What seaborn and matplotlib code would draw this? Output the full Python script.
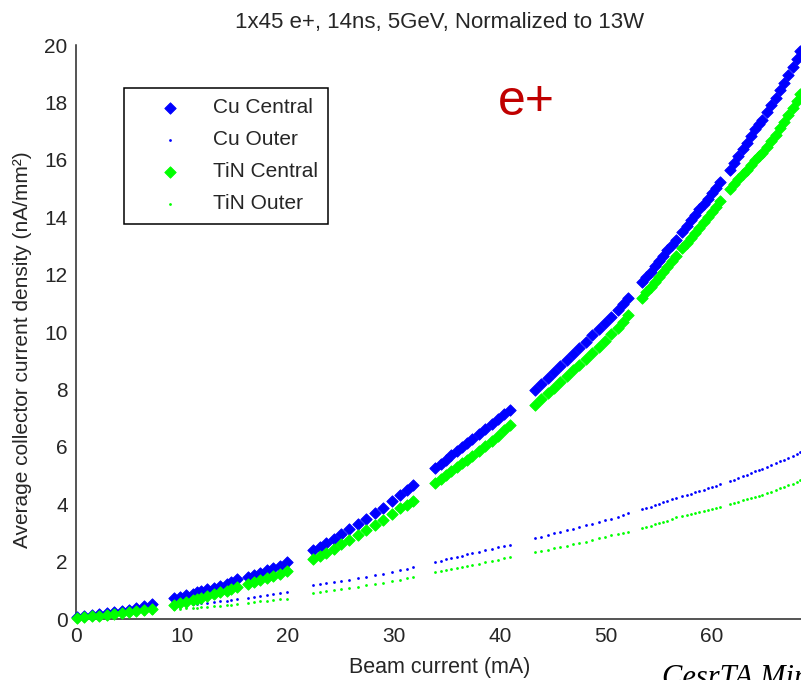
import matplotlib
matplotlib.use("Agg")
import matplotlib.pyplot as plt
import seaborn as sns
import pandas as pd

# Beam current scan (mA), one line per run segment
beam_current = [
    0.1, 0.8, 1.5, 2.2, 2.9, 3.6, 4.3, 5.0, 5.7, 6.4, 7.2,
    9.2, 9.8, 10.4, 11.0, 11.4, 11.8, 12.4, 13.0, 13.6, 14.2, 14.6, 15.2,
    16.2, 16.8, 17.4, 18.0, 18.6, 19.2, 19.9,
    22.4, 23.0, 23.6, 24.3, 25.0, 25.8, 26.6, 27.4, 28.2, 29.0, 29.8, 30.6, 31.2, 31.8,
    33.9, 34.4, 34.9, 35.4, 35.9, 36.4, 36.9, 37.4, 38.0, 38.6, 39.2, 39.8, 40.4, 40.9,
    43.3, 43.9, 44.5, 45.1, 45.7, 46.3, 46.9, 47.5, 48.1, 48.7, 49.3, 49.9, 50.5, 51.1, 51.6, 52.1,
    53.4, 53.8, 54.2, 54.6, 55.0, 55.4, 55.8, 56.2, 56.6, 57.2,
    57.6, 58.0, 58.4, 58.8, 59.2, 59.6, 60.0, 60.4, 60.8,
    61.7, 62.1, 62.5, 62.9, 63.3, 63.7, 64.1, 64.4, 64.7,
    65.2, 65.6, 66.0, 66.4, 66.8, 67.2, 67.6, 68.0, 68.3,
]

cu_central = [
    0.07, 0.10, 0.13, 0.17, 0.21, 0.25, 0.29, 0.33, 0.38, 0.44, 0.52,
    0.73, 0.77, 0.82, 0.88, 0.93, 0.97, 1.03, 1.09, 1.16, 1.22, 1.28, 1.39,
    1.46, 1.55, 1.62, 1.70, 1.78, 1.86, 1.97,
    2.40, 2.52, 2.65, 2.80, 2.96, 3.13, 3.32, 3.50, 3.68, 3.88, 4.10, 4.32, 4.48, 4.67,
    5.26, 5.40, 5.55, 5.70, 5.84, 5.98, 6.12, 6.27, 6.44, 6.62, 6.80, 6.97, 7.13, 7.28,
    7.98, 8.19, 8.40, 8.61, 8.82, 9.03, 9.24, 9.45, 9.66, 9.88, 10.10, 10.32, 10.54, 10.76, 10.96, 11.18,
    11.74, 11.92, 12.10, 12.30, 12.48, 12.66, 12.85, 13.04, 13.22, 13.50,
    13.70, 13.90, 14.08, 14.27, 14.46, 14.65, 14.84, 15.02, 15.22,
    15.65, 15.88, 16.12, 16.36, 16.60, 16.83, 17.06, 17.24, 17.40,
    17.65, 17.90, 18.16, 18.42, 18.68, 18.95, 19.22, 19.52, 19.80,
]

cu_outer = [
    0.03, 0.05, 0.07, 0.09, 0.11, 0.14, 0.16, 0.19, 0.22, 0.25, 0.29,
    0.46, 0.48, 0.50, 0.52, 0.54, 0.55, 0.57, 0.59, 0.62, 0.64, 0.66, 0.69,
    0.74, 0.77, 0.80, 0.83, 0.86, 0.89, 0.93,
    1.18, 1.21, 1.24, 1.28, 1.32, 1.37, 1.42, 1.47, 1.52, 1.58, 1.64, 1.70, 1.75, 1.80,
    1.99, 2.03, 2.08, 2.12, 2.16, 2.21, 2.25, 2.30, 2.35, 2.40, 2.45, 2.50, 2.54, 2.58,
    2.82, 2.87, 2.93, 2.98, 3.03, 3.09, 3.14, 3.20, 3.26, 3.32, 3.38, 3.44, 3.50, 3.57, 3.63, 3.69,
    3.83, 3.87, 3.92, 3.97, 4.02, 4.07, 4.12, 4.17, 4.23, 4.30,
    4.32, 4.37, 4.42, 4.46, 4.51, 4.56, 4.60, 4.65, 4.70,
    4.80, 4.85, 4.91, 4.97, 5.02, 5.08, 5.14, 5.18, 5.22,
    5.30, 5.36, 5.42, 5.49, 5.55, 5.62, 5.69, 5.76, 5.82,
]

tin_central = [
    0.04, 0.07, 0.09, 0.12, 0.15, 0.18, 0.21, 0.24, 0.27, 0.31, 0.35,
    0.50, 0.55, 0.60, 0.66, 0.70, 0.74, 0.80, 0.86, 0.93, 0.99, 1.05, 1.12,
    1.22, 1.29, 1.36, 1.43, 1.50, 1.58, 1.67,
    2.09, 2.20, 2.31, 2.45, 2.60, 2.76, 2.93, 3.10, 3.27, 3.45, 3.66, 3.87, 3.98, 4.10,
    4.74, 4.87, 5.01, 5.15, 5.28, 5.42, 5.55, 5.69, 5.86, 6.03, 6.21, 6.39, 6.58, 6.76,
    7.46, 7.66, 7.86, 8.06, 8.26, 8.46, 8.66, 8.86, 9.06, 9.27, 9.48, 9.70, 9.92, 10.14, 10.36, 10.59,
    11.20, 11.38, 11.56, 11.74, 11.92, 12.10, 12.28, 12.46, 12.64, 12.93,
    13.10, 13.28, 13.46, 13.64, 13.82, 14.00, 14.18, 14.36, 14.55,
    14.98, 15.15, 15.32, 15.49, 15.66, 15.83, 16.00, 16.12, 16.25,
    16.45, 16.66, 16.88, 17.10, 17.33, 17.56, 17.80, 18.05, 18.30,
]

tin_outer = [
    0.02, 0.04, 0.05, 0.07, 0.09, 0.10, 0.12, 0.14, 0.16, 0.19, 0.22,
    0.34, 0.36, 0.37, 0.39, 0.40, 0.41, 0.43, 0.44, 0.46, 0.48, 0.50, 0.52,
    0.56, 0.58, 0.61, 0.63, 0.65, 0.68, 0.71,
    0.92, 0.95, 0.98, 1.01, 1.05, 1.09, 1.13, 1.17, 1.22, 1.27, 1.32, 1.37, 1.42, 1.46,
    1.64, 1.67, 1.71, 1.74, 1.78, 1.81, 1.85, 1.89, 1.93, 1.97, 2.01, 2.06, 2.11, 2.16,
    2.33, 2.37, 2.42, 2.46, 2.51, 2.55, 2.60, 2.65, 2.70, 2.75, 2.81, 2.86, 2.91, 2.95, 2.99, 3.03,
    3.17, 3.21, 3.25, 3.30, 3.34, 3.38, 3.43, 3.48, 3.54, 3.60,
    3.62, 3.65, 3.69, 3.72, 3.76, 3.79, 3.83, 3.86, 3.90,
    4.00, 4.04, 4.09, 4.13, 4.17, 4.21, 4.25, 4.29, 4.32,
    4.39, 4.44, 4.50, 4.55, 4.61, 4.67, 4.72, 4.78, 4.84,
]

series_labels = ["Cu Central", "Cu Outer", "TiN Central", "TiN Outer"]
x_ticks = [0, 10, 20, 30, 40, 50, 60]
y_ticks = [0, 2, 4, 6, 8, 10, 12, 14, 16, 18, 20]

df = pd.DataFrame({
    "current": beam_current,
    "Cu Central": cu_central,
    "Cu Outer": cu_outer,
    "TiN Central": tin_central,
    "TiN Outer": tin_outer,
})

sns.set_style("white")
plt.rcParams["font.family"] = ["Liberation Sans", "DejaVu Sans"]
INK = "#262626"

fig = plt.figure(figsize=(8.01, 6.80), dpi=100)
ax = fig.add_axes([0.0949, 0.0897, 0.9263, 0.8441])

styles = {
    "Cu Central": dict(color="#0000ff", marker="D", s=34, linewidth=0.6),
    "Cu Outer": dict(color="#0000ff", marker="o", s=4, linewidth=0),
    "TiN Central": dict(color="#00ff00", marker="D", s=34, linewidth=0.6),
    "TiN Outer": dict(color="#00ff00", marker="o", s=4, linewidth=0),
}
for name in series_labels:
    st = styles[name]
    sns.scatterplot(data=df, x="current", y=name, ax=ax, label=name,
                    color=st["color"], edgecolor=st["color"], marker=st["marker"],
                    s=st["s"], linewidth=st["linewidth"], clip_on=False, zorder=3)

ax.set_xlim(0, 70)
ax.set_ylim(0, 20)
ax.set_xticks(x_ticks)
ax.set_yticks(y_ticks)
ax.tick_params(direction="in", length=6.5, width=1.0, colors=INK,
               labelsize=15, pad=6)
for side in ("top", "right"):
    ax.spines[side].set_visible(False)
for side in ("left", "bottom"):
    ax.spines[side].set_color(INK)
    ax.spines[side].set_linewidth(1.1)

ax.set_xlabel("Beam current (mA)", fontsize=15.5, color=INK)
ax.xaxis.set_label_coords(0.4906, -0.066)
ax.set_ylabel("Average collector current density (nA/mm²)", fontsize=15,
              color=INK)
ax.yaxis.set_label_coords(-0.0593, 0.469)
ax.set_title("1x45 e+, 14ns, 5GeV, Normalized to 13W", fontsize=16,
             color=INK, pad=12, x=0.4906)

leg = ax.legend(loc="upper left", bbox_to_anchor=(0.0647, 0.925),
                borderaxespad=0, fontsize=15, frameon=True, fancybox=False,
                framealpha=1, edgecolor="#000000", borderpad=0.5,
                handlelength=3.45, handletextpad=0.3, labelspacing=0.62)
leg.get_frame().set_linewidth(1.1)
for t in leg.get_texts():
    t.set_color(INK)

ax.text(42.5, 18.0, "e+", color="#c00000", fontsize=36,
        ha="center", va="center")

fig.text(0.8265, -0.009, "CesrTA Mini-Workshop", fontsize=22, style="italic",
         family=["Liberation Serif", "DejaVu Serif"], color="#000000",
         ha="left", va="baseline")

fig.savefig("out.png", dpi=100)
